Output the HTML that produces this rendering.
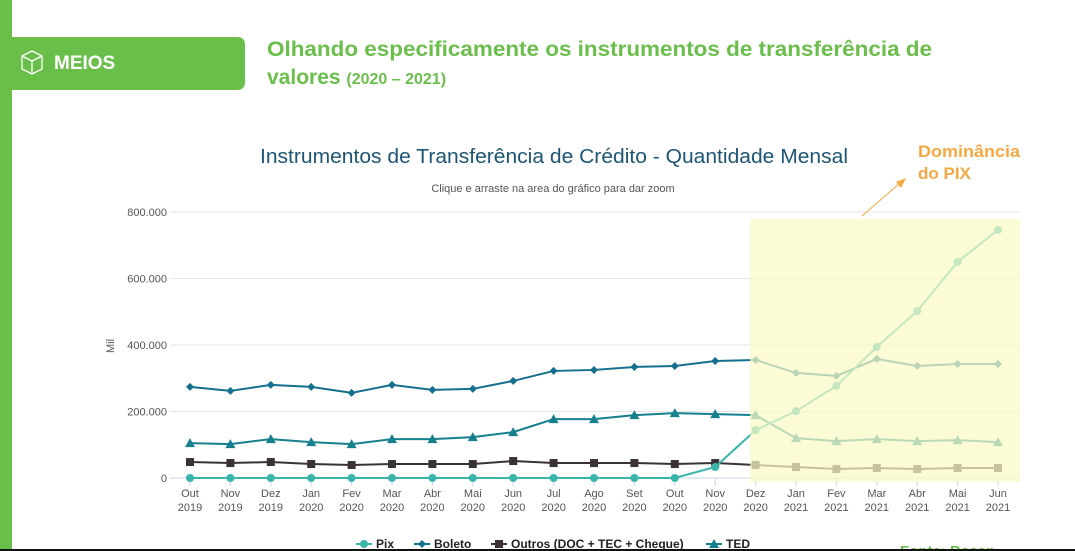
<!DOCTYPE html>
<html><head><meta charset="utf-8">
<style>
html,body{margin:0;padding:0;background:#fff;width:1075px;height:551px;overflow:hidden;font-family:"Liberation Sans",sans-serif;}
</style></head>
<body>
<svg width="1075" height="551" viewBox="0 0 1075 551" xmlns="http://www.w3.org/2000/svg" font-family="Liberation Sans, sans-serif">
<rect x="0" y="0" width="12" height="551" fill="#6abf4b"/>
<g>
<path d="M12 37 H237 Q245 37 245 45 V82 Q245 90 237 90 H12 Z" fill="#6abf4b"/>
<g fill="none" stroke="#fff" stroke-width="1.3">
<path d="M22 56 L32 51 L42 56 L42 69 L32 74 L22 69 Z"/><path d="M22 56 L32 61 L42 56 M32 61 V74"/>
</g>
<text x="54" y="69" fill="#fff" font-size="19" font-weight="bold">MEIOS</text>
</g>
<text x="267" y="56" fill="#6abf4b" font-size="21" font-weight="bold" textLength="665" lengthAdjust="spacingAndGlyphs">Olhando especificamente os instrumentos de transferência de</text>
<text x="267" y="84" fill="#6abf4b" font-size="21" font-weight="bold">valores <tspan font-size="16">(2020 – 2021)</tspan></text>

<text x="260" y="163" fill="#1c5575" font-size="20" textLength="588" lengthAdjust="spacingAndGlyphs">Instrumentos de Transferência de Crédito - Quantidade Mensal</text>
<text x="553" y="192" fill="#555" font-size="11" text-anchor="middle">Clique e arraste na area do gráfico para dar zoom</text>
<text x="114" y="346" fill="#555" font-size="11" text-anchor="middle" transform="rotate(-90 114 346)">Mil</text>
<g id="grid"></g>
<g id="xaxis"></g>
<g id="series"></g>
<rect x="750" y="219" width="270" height="263" fill="#f9fbc6" fill-opacity="0.72"/>
<g>
<line x1="862" y1="216" x2="900" y2="183" stroke="#f5a742" stroke-width="1"/>
<path d="M906 178 L896 182 L901 188 Z" fill="#f5a742"/>
</g>
<text x="918" y="157" fill="#f5a742" font-size="17" font-weight="bold" textLength="102" lengthAdjust="spacingAndGlyphs">Dominância</text>
<text x="918" y="179" fill="#f5a742" font-size="17" font-weight="bold">do PIX</text>
<g id="legend" font-size="12" font-weight="bold" fill="#222"></g>
<text x="900" y="556" fill="#6abf4b" font-size="15" font-weight="bold">Fonte: Bacen</text>
<rect x="0" y="549" width="1075" height="2" fill="#111"/>
</svg>
<script>
const categories=["Out 2019","Nov 2019","Dez 2019","Jan 2020","Fev 2020","Mar 2020","Abr 2020","Mai 2020","Jun 2020","Jul 2020","Ago 2020","Set 2020","Out 2020","Nov 2020","Dez 2020","Jan 2021","Fev 2021","Mar 2021","Abr 2021","Mai 2021","Jun 2021"];
const pix=[0,0,0,0,0,0,0,0,0,0,0,0,0,33,144,201,277,394,502,650,746];
const boleto=[274,262,280,274,256,280,265,268,292,322,325,334,337,352,355,316,307,358,337,343,343];
const outros=[48,45,48,42,39,42,42,42,51,45,45,45,42,45,39,33,27,30,27,30,30];
const ted=[105,102,117,108,102,117,117,123,138,177,177,189,195,192,189,120,111,117,111,114,108];
const yTicks=[0,200,400,600,800];
const yTickLabels=["0","200.000","400.000","600.000","800.000"];
const NS="http://www.w3.org/2000/svg";
const yS=v=>478-v*266/800;
const xS=i=>190+i*40.4;
function mk(tag,attrs,parent){const e=document.createElementNS(NS,tag);for(const k in attrs)e.setAttribute(k,attrs[k]);parent.appendChild(e);return e;}
const grid=document.getElementById('grid');
yTicks.forEach((t,i)=>{
  const l=mk('line',{x1:170,x2:1020,y1:yS(t),y2:yS(t),stroke:t===0?'#ccd6eb':'#e6e6e6','stroke-width':1},grid);
  
  
  const tx=mk('text',{x:167,y:yS(t)+4,'text-anchor':'end','font-size':11,fill:'#555'},grid);
  tx.textContent=yTickLabels[i];
  
  
});
const xa=document.getElementById('xaxis');
categories.forEach((c,i)=>{
  const [m,y]=c.split(' ');
  const tk=mk('line',{x1:xS(i),x2:xS(i),y1:478,y2:486,stroke:'#ccd6eb'},xa);
  
  
  const t=mk('text',{x:xS(i),y:497,'text-anchor':'middle','font-size':11,fill:'#555'},xa);
  
  
  const a=mk('tspan',{x:xS(i)},t);a.textContent=m;
  const b=mk('tspan',{x:xS(i),dy:14},t);b.textContent=y;
});
function marker(type,x,y,col,g){
  let e;
  if(type==='circle')e=mk('circle',{cx:x,cy:y,r:4,fill:col},g);
  else if(type==='diamond')e=mk('path',{d:`M${x} ${y-4}L${x+4} ${y}L${x} ${y+4}L${x-4} ${y}Z`,fill:col},g);
  else if(type==='square')e=mk('rect',{x:x-4,y:y-4,width:8,height:8,fill:col},g);
  else e=mk('path',{d:`M${x} ${y-5}L${x+5} ${y+4}L${x-5} ${y+4}Z`,fill:col},g);
  return e;
}
const sg=document.getElementById('series');
const seriesDefs=[["outros",outros,"#3a3236","square"],["ted",ted,"#16808f","triangle"],["boleto",boleto,"#14708e","diamond"],["pix",pix,"#3ab5ac","circle"]];
seriesDefs.forEach(([name,vals,col,m])=>{
  const g=mk('g',{},sg);
  
  
  const p=mk('polyline',{points:vals.map((v,i)=>xS(i)+','+yS(v)).join(' '),fill:'none',stroke:col,'stroke-width':2},g);
  
  
  vals.forEach((v,i)=>{
    const e=marker(m,xS(i),yS(v),col,g);
    
    
  });
});
const lg=document.getElementById('legend');
const legendItems=[["Pix","#3ab5ac","circle",356],["Boleto","#14708e","diamond",414],["Outros (DOC + TEC + Cheque)","#3a3236","square",491],["TED","#16808f","triangle",706]];
legendItems.forEach(([lab,col,m,x])=>{
  const g=mk('g',{},lg);
  
  
  mk('line',{x1:x,x2:x+16,y1:544,y2:544,stroke:col,'stroke-width':2},g);
  marker(m,x+8,544,col,g);
  const t=mk('text',{x:x+20,y:548},g);t.textContent=lab;
});
</script>
</body></html>
